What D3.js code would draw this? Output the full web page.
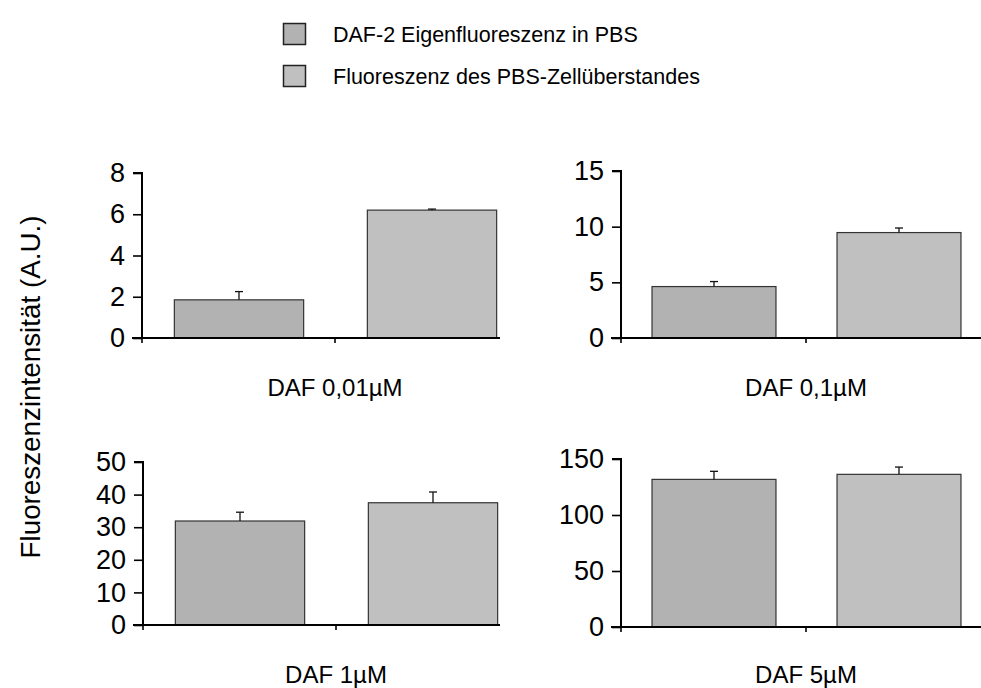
<!DOCTYPE html>
<html>
<head>
<meta charset="utf-8">
<script src="https://cdn.jsdelivr.net/npm/d3@7"></script>
<style>
  html, body { margin: 0; padding: 0; background: #fff; }
  svg { display: block; font-family: "Liberation Sans", Arial, sans-serif; }
</style>
</head>
<body>
<svg id="chart" width="981" height="688"></svg>
<script>
// ---- data ----
const seriesNames = ["DAF-2 Eigenfluoreszenz in PBS", "Fluoreszenz des PBS-Zellüberstandes"];
const panelLabels = ["DAF 0,01µM", "DAF 0,1µM", "DAF 1µM", "DAF 5µM"];
const eigenValues = [1.85, 4.62, 31.9, 131.8];
const eigenErrors = [0.40, 0.45, 2.7, 7.2];
const ueberValues = [6.2, 9.47, 37.5, 136.3];
const ueberErrors = [0.05, 0.41, 3.3, 6.5];
const yMax = [8, 15, 50, 150];
const yTickStep = [2, 5, 10, 50];
const yTitle = "Fluoreszenzintensität (A.U.)";

// ---- layout ----
const colors = ["#b2b2b2", "#c0c0c0"];
const panelLayout = [
  { x0: 142, x1: 528, yTop: 173, yBottom: 338, axisEnd: 500, labelY: 396 },
  { x0: 621, x1: 991, yTop: 171, yBottom: 338, axisEnd: 991, labelY: 396 },
  { x0: 143, x1: 529, yTop: 462, yBottom: 625, axisEnd: 500, labelY: 683 },
  { x0: 621, x1: 991, yTop: 459, yBottom: 627, axisEnd: 991, labelY: 683 }
];

const svg = d3.select("#chart");

// legend
const legend = svg.append("g");
seriesNames.forEach((name, i) => {
  const y0 = 23 + i * 42;
  legend.append("rect")
    .attr("x", 283.5).attr("y", y0 + 0.5)
    .attr("width", 22).attr("height", 21)
    .attr("fill", colors[i]).attr("stroke", "#222").attr("stroke-width", 1.5);
  legend.append("text")
    .attr("x", 333).attr("y", y0 + 18.5)
    .attr("font-size", 21.5).attr("fill", "#000")
    .text(name);
});

// y title
svg.append("text")
  .attr("transform", "translate(40,387) rotate(-90)")
  .attr("text-anchor", "middle")
  .attr("font-size", 27.8)
  .attr("fill", "#000")
  .text(yTitle);

panelLabels.forEach((label, p) => {
  const L = panelLayout[p];
  const g = svg.append("g");
  const x = d3.scaleBand().domain(seriesNames).range([L.x0, L.x1]).paddingInner(0.33).paddingOuter(0.165);
  const y = d3.scaleLinear().domain([0, yMax[p]]).range([L.yBottom, L.yTop]);
  const vals = [eigenValues[p], ueberValues[p]];
  const errs = [eigenErrors[p], ueberErrors[p]];

  // bars
  seriesNames.forEach((s, i) => {
    g.append("rect")
      .attr("x", x(s) + 0.5)
      .attr("y", y(vals[i]))
      .attr("width", x.bandwidth())
      .attr("height", y(0) - y(vals[i]))
      .attr("fill", colors[i])
      .attr("stroke", "#333").attr("stroke-width", 1.2);
    const cx = x(s) + x.bandwidth() / 2 + 0.5;
    g.append("line")
      .attr("x1", cx).attr("x2", cx)
      .attr("y1", y(vals[i])).attr("y2", y(vals[i] + errs[i]))
      .attr("stroke", "#111").attr("stroke-width", 1.3);
    g.append("line")
      .attr("x1", cx - 4).attr("x2", cx + 4)
      .attr("y1", y(vals[i] + errs[i])).attr("y2", y(vals[i] + errs[i]))
      .attr("stroke", "#111").attr("stroke-width", 1.3);
  });

  // y axis
  const ticks = d3.range(0, yMax[p] + 1e-9, yTickStep[p]);
  const yAxis = d3.axisLeft(y).tickValues(ticks).tickSize(9).tickPadding(8).tickFormat(d3.format("d"));
  const ya = g.append("g").attr("transform", `translate(${L.x0},0)`).call(yAxis);
  ya.select(".domain").attr("stroke", "#000").attr("stroke-width", 2).attr("d", `M-9,${L.yTop}H0V${L.yBottom}`);
  ya.selectAll(".tick line").attr("stroke", "#000").attr("stroke-width", 1.6);
  ya.selectAll(".tick text").attr("font-size", 27).attr("fill", "#000").attr("font-family", "Liberation Sans, Arial, sans-serif");

  // x axis
  const xa = g.append("g").attr("transform", `translate(0,${L.yBottom})`);
  xa.append("line")
    .attr("x1", L.x0 - 10).attr("x2", L.axisEnd)
    .attr("y1", 0).attr("y2", 0)
    .attr("stroke", "#000").attr("stroke-width", 2);
  const tickXs = [L.x0, x(seriesNames[1]) - x.step() * x.paddingInner() / 2];
  tickXs.forEach(tx => {
    xa.append("line").attr("x1", tx).attr("x2", tx).attr("y1", 0).attr("y2", 5)
      .attr("stroke", "#000").attr("stroke-width", 1.6);
  });

  // category label
  g.append("text")
    .attr("x", (L.x0 + L.x1) / 2)
    .attr("y", L.labelY)
    .attr("text-anchor", "middle")
    .attr("font-size", 24)
    .attr("fill", "#000")
    .text(label);
});
</script>
</body>
</html>
